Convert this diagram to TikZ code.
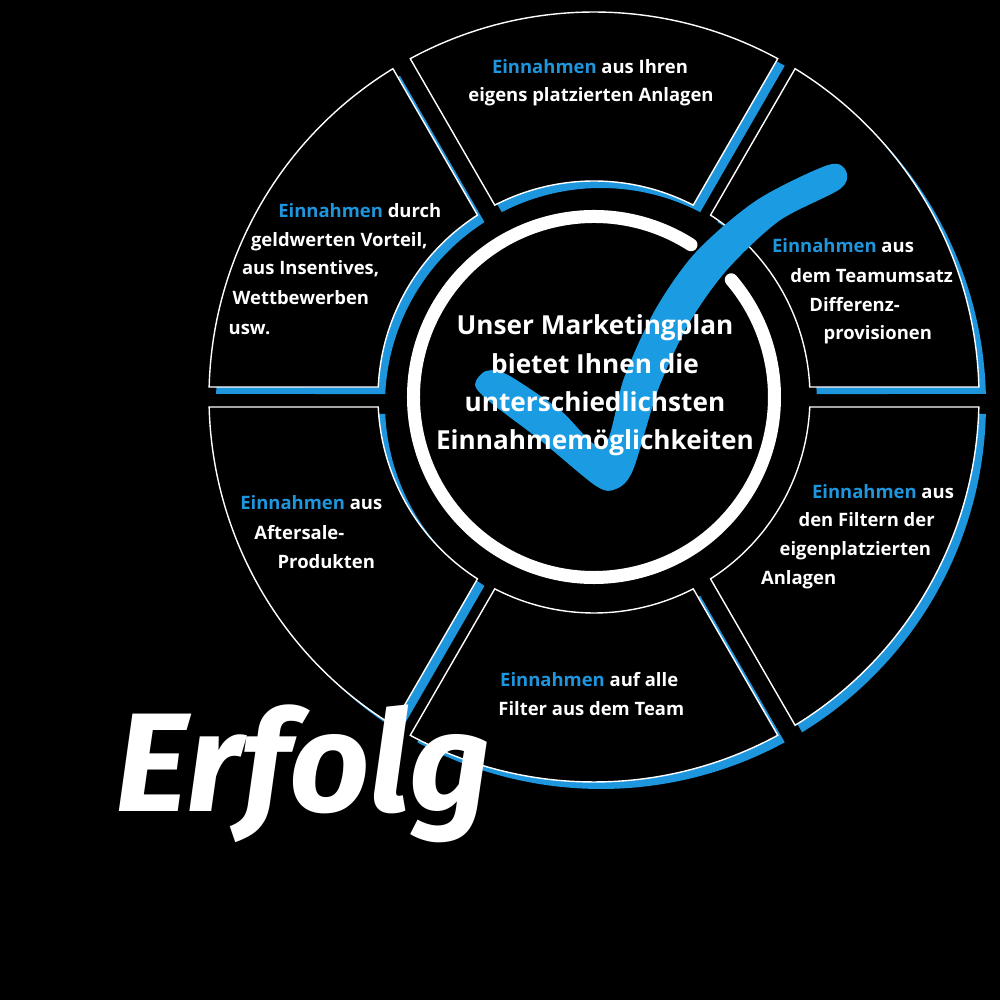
\documentclass[tikz,border=0pt]{standalone}
\usepackage{fontspec}
\setmainfont{Open Sans}
\newfontfamily\brushfont{Fira Sans}
\usetikzlibrary{calc}
\definecolor{einblue}{RGB}{30,150,222}
\definecolor{checkblue}{RGB}{26,155,226}
\newcommand{\ein}{\textcolor{einblue}{Einnahmen}}

\begin{document}
\begin{tikzpicture}[
    x=0.2mm, y=0.2mm,
    seg/.style={fill=black, draw=white, line width=0.28mm},
    segshadow/.style={fill=einblue},
    lbl/.style={anchor=base west, inner sep=0pt, text=white, font=\bfseries\fontsize{10.5}{12}\selectfont},
    clbl/.style={lbl, anchor=base},
    midlbl/.style={anchor=base, inner sep=0pt, text=white, font=\bfseries\fontsize{14.9}{17}\selectfont}
]
\useasboundingbox (0,0) rectangle (1000,1000);
\fill[black] (0,0) rectangle (1000,1000);

% ring of six parts, blue shadow first
\begin{scope}[shift={(594,603)}]
\foreach \a in {0,60,...,300}{
  \pgfmathsetmacro{\b}{\a+60}
  \fill[segshadow, shift={(7,-7)}] ({\a+1.49}:385) arc[start angle=\a+1.49, end angle=\b-1.49, radius=385]
    -- ({\b-2.65}:216) arc[start angle=\b-2.65, end angle=\a+2.65, radius=216] -- cycle;
}
\foreach \a in {0,60,...,300}{
  \pgfmathsetmacro{\b}{\a+60}
  \path[seg] ({\a+1.49}:385) arc[start angle=\a+1.49, end angle=\b-1.49, radius=385]
    -- ({\b-2.65}:216) arc[start angle=\b-2.65, end angle=\a+2.65, radius=216] -- cycle;
}
% inner white ring
\draw[white, line width=2.6mm, line cap=round] (57.5:180.5) arc[start angle=57.5, end angle=400.5, radius=180.5];
\end{scope}

% check mark
\fill[checkblue] plot[smooth cycle, tension=0.5] coordinates {
  (475,615) (486,629) (508,625) (560,590) (603,553)
  (624,622) (655,690) (696,748) (757,800) (828,835)
  (846,829) (840,811) (779,779) (726,729) (688,675)
  (658,610) (633,530) (616,511) (596,514) (540,560) (490,598)};

% centre text
\node[midlbl] (m1) at (595,665) {Unser Marketingplan};
\node[midlbl] (m2) at (595,626.7) {bietet Ihnen die};
\node[midlbl] (m3) at (595,588.3) {unterschiedlichsten};
\node[midlbl] (m4) at (595,550) {Einnahmemöglichkeiten};

% top
\node[clbl] (top1) at (590,926.7) {\ein{} aus Ihren};
\node[clbl] (top2) at (591,898.3) {eigens platzierten Anlagen};
% upper left
\node[lbl] (ul1) at (278,782.3) {\ein{} durch};
\node[lbl] (ul2) at (250.7,753.3) {geldwerten Vorteil,};
\node[lbl] (ul3) at (241.7,725) {aus Insentives,};
\node[lbl] (ul4) at (232.3,695.7) {Wettbewerben};
\node[lbl] (ul5) at (228.3,665) {usw.};
% upper right
\node[lbl] (ur1) at (771.7,747.3) {\ein{} aus};
\node[lbl] (ur2) at (790,717.7) {dem Teamumsatz};
\node[lbl] (ur3) at (809,688.3) {Differenz-};
\node[lbl] (ur4) at (823.3,660) {provisionen};
% lower right
\node[lbl] (lr1) at (811.7,501.7) {\ein{} aus};
\node[lbl] (lr2) at (798.3,473.3) {den Filtern der};
\node[lbl] (lr3) at (779.3,444.3) {eigenplatzierten};
\node[lbl] (lr4) at (760.7,415) {Anlagen};
% lower left
\node[lbl] (ll1) at (240,490.7) {\ein{} aus};
\node[lbl] (ll2) at (254,460.7) {Aftersale-};
\node[lbl] (ll3) at (277.3,431) {Produkten};
% bottom
\node[clbl] (bot1) at (589.2,313.3) {\ein{} auf alle};
\node[clbl] (bot2) at (591.3,284.3) {Filter aus dem Team};

% handwritten word
\node[anchor=base west, inner sep=0pt, text=white, font=\brushfont\bfseries\itshape\fontsize{80}{80}\selectfont] (erfolg) at (115,188) {Erfolg};
\end{tikzpicture}
\end{document}
